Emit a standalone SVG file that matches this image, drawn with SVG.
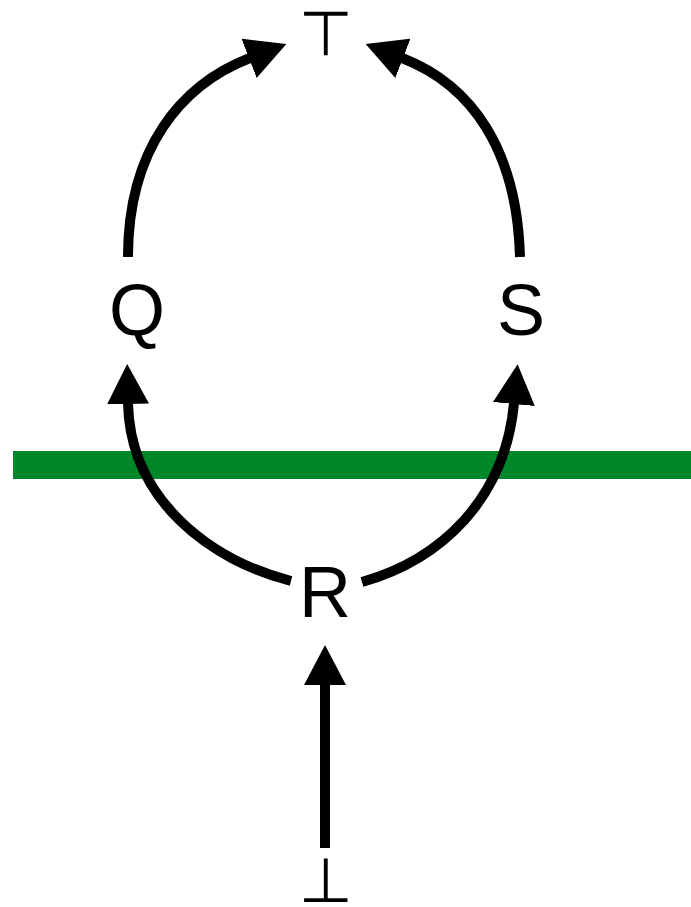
<svg xmlns="http://www.w3.org/2000/svg" width="691" height="907" viewBox="0 0 691 907">
<style>
.lbl{font-family:"Liberation Sans",Arial,sans-serif;font-size:72px;fill:#000;text-anchor:middle}
.sym{font-family:"DejaVu Sans",sans-serif;font-size:62px;fill:#000;text-anchor:middle}
.edge{fill:none;stroke:#000;stroke-width:10;marker-end:url(#ah)}
</style>
<defs>
<marker id="ah" viewBox="0 0 40 42" markerWidth="40" markerHeight="42" markerUnits="userSpaceOnUse" refX="1" refY="21" orient="auto">
<path d="M0,0 L40,21 L0,42 z" fill="#000"/>
</marker>
</defs>
<rect x="13" y="451" width="678" height="28" fill="#00872A"/>
<g id="connectors">
<path class="edge" d="M128,257 C128,150 180,85 250,58"/>
<path class="edge" d="M520,257 C517,150 472,85 402,58"/>
<path class="edge" d="M291,581 C210,560 130,500 128,403"/>
<path class="edge" d="M362,582 C440,560 505,500 514,403"/>
<path class="edge" d="M325,848 L325,684"/>
</g>
<g id="node-top"><text class="sym" x="326" y="55">⊤</text></g>
<g id="node-Q"><text class="lbl" x="137" y="335">Q</text></g>
<g id="node-S"><text class="lbl" x="521" y="335">S</text></g>
<g id="node-R"><text class="lbl" x="325" y="617">R</text></g>
<g id="node-bottom"><text class="sym" x="326" y="902">⊥</text></g>
</svg>
